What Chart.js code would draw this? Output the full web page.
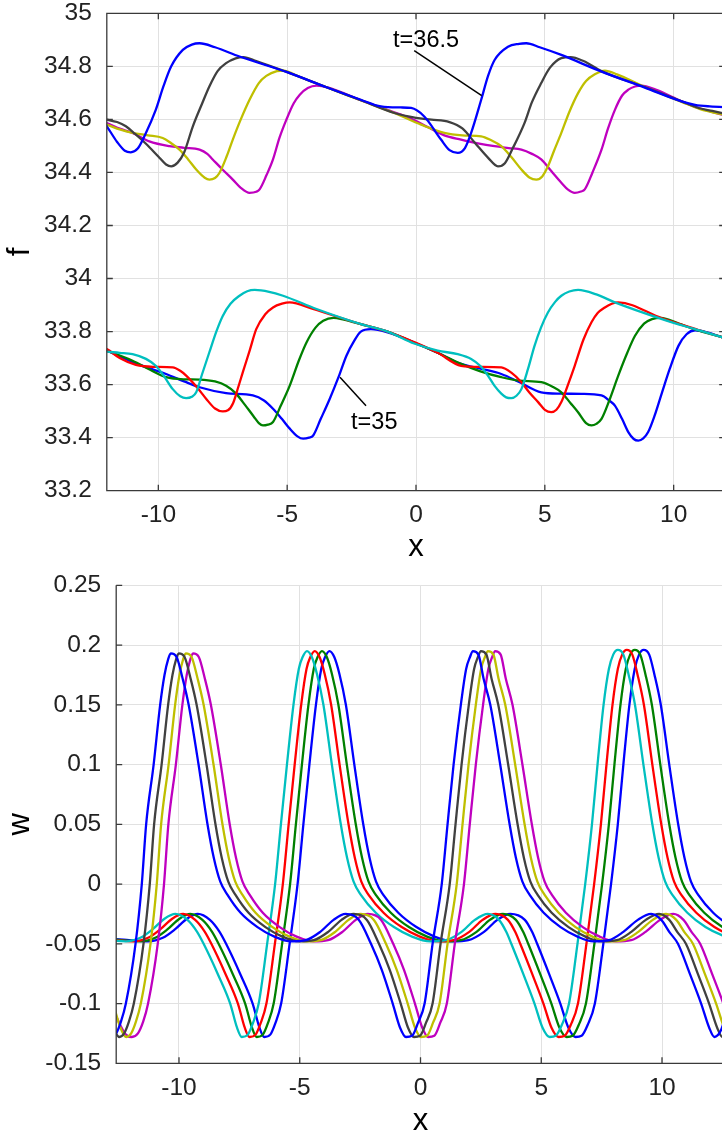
<!DOCTYPE html>
<html>
<head>
<meta charset="utf-8">
<script src="https://cdn.jsdelivr.net/npm/chart.js@4.4.1/dist/chart.umd.min.js"></script>
<style>
  html, body { margin: 0; padding: 0; background: #fff; overflow: hidden; }
  #wrap { position: relative; width: 760px; height: 1145px; }
  canvas { position: absolute; left: 0; }
  #fChart { top: 0; }
  #wChart { top: 560px; }
</style>
</head>
<body>
<div id="wrap">
  <canvas id="fChart" width="760" height="567"></canvas>
  <canvas id="wChart" width="760" height="582"></canvas>
</div>
<script>
// axis ranges and tick values
const xTicks = [-10, -5, 0, 5, 10];
const fTicks = [33.2, 33.4, 33.6, 33.8, 34, 34.2, 34.4, 34.6, 34.8, 35];
const wTicks = [-0.15, -0.1, -0.05, 0, 0.05, 0.1, 0.15, 0.2, 0.25];
const fXRange = [-12, 12];
const wXRange = [-12.6, 12.6];

// top panel, f(x): upper group ends at t=36.5, lower group starts at t=35
const fHiBlue = [[-12.2,34.6],[-12,34.574],[-11.6,34.515],[-11.3,34.482],[-11.07,34.476],[-10.8,34.49],[-10.5,34.545],[-10.1,34.636],[-9.8,34.725],[-9.5,34.8],[-9.05,34.862],[-8.7,34.882],[-8.4,34.887],[-7.8,34.872],[-6.85,34.837],[-5,34.778],[-3.5,34.722],[-2.14,34.674],[-1.36,34.649],[-0.6,34.645],[-0.19,34.643],[0.32,34.611],[0.97,34.524],[1.3,34.484],[1.62,34.474],[1.9,34.492],[2.14,34.549],[2.53,34.674],[2.8,34.765],[3.05,34.824],[3.57,34.874],[4,34.885],[4.28,34.887],[4.8,34.872],[5.64,34.843],[7.2,34.78],[8.88,34.72],[10.31,34.668],[10.83,34.655],[11.4,34.649],[12.2,34.645]];
const fHiGray = [[-12.2,34.603],[-12,34.599],[-11.6,34.59],[-11.26,34.574],[-10.9,34.545],[-10.48,34.508],[-10,34.46],[-9.7,34.43],[-9.5,34.423],[-9.25,34.437],[-9,34.475],[-8.66,34.574],[-8.3,34.66],[-8.02,34.724],[-7.7,34.782],[-7.37,34.812],[-7,34.83],[-6.7,34.835],[-6.2,34.82],[-5,34.778],[-3.5,34.722],[-2.14,34.672],[-0.84,34.624],[0,34.606],[0.6,34.599],[1.3,34.59],[1.8,34.566],[2.3,34.51],[2.8,34.455],[3.18,34.423],[3.45,34.435],[3.75,34.49],[4.21,34.586],[4.5,34.665],[4.86,34.737],[5.2,34.795],[5.64,34.831],[6,34.835],[6.5,34.82],[7.2,34.782],[8.88,34.722],[10.31,34.668],[11,34.642],[11.5,34.632],[12.2,34.617]];
const fHiYellow = [[-12.2,34.585],[-12,34.58],[-11.5,34.562],[-11,34.549],[-10.4,34.54],[-9.83,34.53],[-9.5,34.51],[-9.18,34.486],[-8.85,34.45],[-8.53,34.411],[-8.2,34.38],[-8.02,34.373],[-7.8,34.379],[-7.63,34.398],[-7.35,34.46],[-7.11,34.524],[-6.8,34.6],[-6.46,34.674],[-6.1,34.737],[-5.81,34.764],[-5.4,34.782],[-5.16,34.784],[-4.5,34.76],[-3.5,34.722],[-2.14,34.672],[-0.84,34.624],[0.2,34.58],[1.1,34.549],[1.8,34.54],[2.53,34.536],[2.9,34.522],[3.31,34.499],[3.7,34.458],[4.09,34.411],[4.4,34.381],[4.67,34.373],[4.9,34.385],[5.12,34.423],[5.35,34.48],[5.64,34.549],[5.95,34.628],[6.29,34.699],[6.6,34.745],[6.94,34.77],[7.33,34.784],[7.8,34.77],[8.88,34.722],[10.31,34.666],[11,34.64],[12.2,34.612]];
const fHiMagenta = [[-12.2,34.59],[-12,34.586],[-11.5,34.565],[-11,34.549],[-10.35,34.517],[-9.57,34.499],[-9,34.493],[-8.4,34.486],[-8.1,34.47],[-7.89,34.449],[-7.5,34.41],[-7.11,34.373],[-6.8,34.342],[-6.46,34.323],[-6.2,34.327],[-6.07,34.336],[-5.8,34.39],[-5.55,34.449],[-5.3,34.53],[-5.03,34.599],[-4.75,34.66],[-4.51,34.693],[-4.2,34.718],[-3.86,34.727],[-3.4,34.72],[-2.14,34.672],[-1,34.632],[-0.2,34.603],[0.45,34.571],[1.1,34.54],[1.75,34.524],[2.4,34.51],[3.05,34.499],[3.6,34.492],[4.09,34.486],[4.5,34.47],[4.86,34.449],[5.25,34.405],[5.64,34.361],[5.9,34.335],[6.16,34.323],[6.4,34.328],[6.55,34.336],[6.85,34.4],[7.2,34.486],[7.45,34.565],[7.72,34.636],[8,34.69],[8.24,34.712],[8.5,34.724],[8.75,34.727],[9.3,34.712],[10.31,34.668],[11,34.642],[12.2,34.61]];
const fLoCyan = [[-12.2,33.726],[-12,33.724],[-11.5,33.72],[-11,33.715],[-10.48,33.697],[-10.1,33.671],[-9.8,33.635],[-9.44,33.583],[-9.15,33.556],[-8.92,33.549],[-8.7,33.554],[-8.53,33.571],[-8.3,33.64],[-8.02,33.722],[-7.75,33.8],[-7.5,33.859],[-7.2,33.905],[-6.85,33.935],[-6.55,33.952],[-6.26,33.957],[-5.7,33.95],[-5.16,33.935],[-3.86,33.885],[-2.14,33.828],[-1.1,33.8],[-0.07,33.755],[0.84,33.728],[1.62,33.715],[2.14,33.697],[2.5,33.67],[2.79,33.634],[3.05,33.595],[3.31,33.566],[3.5,33.552],[3.7,33.549],[3.9,33.558],[4.09,33.583],[4.35,33.66],[4.6,33.746],[4.85,33.815],[5.12,33.872],[5.4,33.912],[5.64,33.935],[5.95,33.951],[6.29,33.957],[7,33.94],[7.72,33.91],[9.55,33.847],[10.83,33.809],[11.9,33.778],[12.2,33.77]];
const fLoRed = [[-12.2,33.74],[-12,33.734],[-11.5,33.7],[-10.87,33.674],[-10.2,33.667],[-9.44,33.665],[-9.15,33.652],[-8.92,33.634],[-8.5,33.59],[-8.14,33.546],[-7.8,33.51],[-7.5,33.499],[-7.3,33.503],[-7.1,33.53],[-6.9,33.59],[-6.72,33.647],[-6.45,33.73],[-6.2,33.809],[-5.85,33.865],[-5.55,33.891],[-5.2,33.905],[-4.9,33.91],[-4,33.885],[-2.14,33.828],[-1.1,33.8],[-0.07,33.76],[0.84,33.72],[1.75,33.671],[2.5,33.667],[3.31,33.665],[3.7,33.645],[4.09,33.609],[4.4,33.57],[4.74,33.534],[5,33.505],[5.25,33.496],[5.45,33.505],[5.64,33.534],[5.9,33.6],[6.16,33.671],[6.5,33.77],[6.81,33.835],[7.05,33.87],[7.33,33.891],[7.6,33.905],[7.85,33.91],[9.55,33.85],[10.83,33.81],[11.9,33.778],[12.2,33.77]];
const fLoGreen = [[-12.2,33.735],[-12,33.728],[-11,33.69],[-10.3,33.655],[-9.7,33.628],[-9,33.62],[-8.4,33.619],[-7.8,33.612],[-7.37,33.596],[-7,33.568],[-6.72,33.534],[-6.3,33.48],[-6.1,33.455],[-5.94,33.446],[-5.75,33.449],[-5.55,33.459],[-5.25,33.52],[-4.9,33.596],[-4.55,33.69],[-4.25,33.759],[-3.9,33.815],[-3.6,33.841],[-3.2,33.852],[-2.8,33.845],[-2.14,33.828],[-1.1,33.8],[-0.07,33.758],[0.84,33.72],[1.75,33.678],[2.5,33.65],[3.31,33.628],[4,33.615],[4.86,33.609],[5.3,33.592],[5.64,33.571],[6,33.53],[6.29,33.496],[6.6,33.455],[6.81,33.446],[7,33.452],[7.2,33.471],[7.5,33.54],[7.85,33.634],[8.2,33.72],[8.5,33.784],[8.85,33.83],[9.16,33.847],[9.5,33.852],[10.2,33.83],[10.83,33.808],[11.9,33.778],[12.2,33.77]];
const fLoBlue = [[-12.2,33.735],[-12,33.728],[-11,33.685],[-10.3,33.66],[-9.7,33.64],[-9,33.612],[-8.4,33.59],[-7.37,33.568],[-6.33,33.559],[-5.9,33.54],[-5.55,33.509],[-5.2,33.47],[-4.9,33.434],[-4.6,33.405],[-4.38,33.396],[-4.15,33.4],[-3.99,33.408],[-3.7,33.47],[-3.35,33.546],[-3,33.63],[-2.7,33.709],[-2.4,33.765],[-2.14,33.8],[-1.75,33.809],[-1.1,33.797],[-0.07,33.759],[0.84,33.72],[1.75,33.678],[2.5,33.66],[3.31,33.64],[4,33.61],[4.86,33.571],[5.6,33.566],[6.42,33.565],[7.2,33.559],[7.5,33.54],[7.72,33.521],[8,33.47],[8.24,33.421],[8.45,33.395],[8.63,33.389],[8.82,33.397],[9.01,33.421],[9.25,33.48],[9.55,33.571],[9.85,33.66],[10.19,33.747],[10.5,33.79],[10.83,33.805],[11.3,33.797],[11.9,33.778],[12.2,33.77]];

// bottom panel, w(x): first group (blue, gray, yellow, magenta), second group (cyan, red, green, blue)
const wBlue1 = [[-14.3,-0.05],[-13.8,-0.075],[-13.35,-0.1],[-13.05,-0.12],[-12.8,-0.128],[-12.6,-0.125],[-12.4,-0.115],[-12.2,-0.1],[-11.8,-0.05],[-11.54,0],[-11.36,0.05],[-11.05,0.1],[-10.78,0.15],[-10.6,0.175],[-10.45,0.188],[-10.34,0.193],[-10.1,0.19],[-9.85,0.172],[-9.6,0.15],[-9.19,0.1],[-8.82,0.05],[-8.56,0.022],[-8.29,0.002],[-7.99,-0.009],[-7.45,-0.024],[-6.75,-0.036],[-6.05,-0.044],[-5.35,-0.048],[-4.75,-0.047],[-4.15,-0.04],[-3.6,-0.03],[-3.1,-0.025],[-2.55,-0.03],[-2.05,-0.05],[-1.6,-0.072],[-1.15,-0.1],[-0.85,-0.12],[-0.6,-0.128],[-0.35,-0.127],[-0.1,-0.116],[0.17,-0.1],[0.5,-0.05],[0.88,0],[1.12,0.05],[1.37,0.1],[1.67,0.15],[1.89,0.18],[2.05,0.19],[2.17,0.195],[2.4,0.192],[2.61,0.172],[2.89,0.15],[3.3,0.1],[3.69,0.05],[3.95,0.022],[4.22,0.002],[4.52,-0.009],[5.1,-0.024],[5.8,-0.036],[6.5,-0.044],[7.17,-0.048],[7.8,-0.047],[8.4,-0.04],[9,-0.03],[9.55,-0.025],[9.97,-0.03],[10.3,-0.04],[10.66,-0.05],[11.15,-0.075],[11.62,-0.1],[11.95,-0.12],[12.17,-0.128],[12.45,-0.122],[12.7,-0.105]];
const wGray1 = [[-13.97,-0.05],[-13.47,-0.075],[-13.02,-0.1],[-12.72,-0.12],[-12.47,-0.128],[-12.27,-0.125],[-12.07,-0.115],[-11.87,-0.1],[-11.47,-0.05],[-11.21,0],[-11.03,0.05],[-10.72,0.1],[-10.45,0.15],[-10.27,0.175],[-10.12,0.188],[-10.01,0.193],[-9.77,0.19],[-9.52,0.172],[-9.27,0.15],[-8.86,0.1],[-8.49,0.05],[-8.23,0.022],[-7.96,0.002],[-7.66,-0.009],[-7.12,-0.024],[-6.42,-0.036],[-5.72,-0.044],[-5.02,-0.048],[-4.42,-0.047],[-3.82,-0.04],[-3.27,-0.03],[-2.77,-0.025],[-2.22,-0.03],[-1.72,-0.05],[-1.27,-0.072],[-0.82,-0.1],[-0.52,-0.12],[-0.27,-0.128],[-0.02,-0.127],[0.23,-0.116],[0.5,-0.1],[0.83,-0.05],[1.21,0],[1.45,0.05],[1.7,0.1],[2,0.15],[2.22,0.18],[2.38,0.19],[2.5,0.195],[2.73,0.192],[2.94,0.172],[3.22,0.15],[3.63,0.1],[4.02,0.05],[4.28,0.022],[4.55,0.002],[4.85,-0.009],[5.43,-0.024],[6.13,-0.036],[6.83,-0.044],[7.5,-0.048],[8.13,-0.047],[8.73,-0.04],[9.33,-0.03],[9.88,-0.025],[10.3,-0.03],[10.63,-0.04],[10.99,-0.05],[11.48,-0.075],[11.95,-0.1],[12.28,-0.12],[12.5,-0.128],[12.78,-0.122],[13.03,-0.105]];
const wYellow1 = [[-13.68,-0.05],[-13.18,-0.075],[-12.73,-0.1],[-12.43,-0.12],[-12.18,-0.128],[-11.98,-0.125],[-11.78,-0.115],[-11.58,-0.1],[-11.18,-0.05],[-10.92,0],[-10.74,0.05],[-10.43,0.1],[-10.16,0.15],[-9.98,0.175],[-9.83,0.188],[-9.72,0.193],[-9.48,0.19],[-9.23,0.172],[-8.98,0.15],[-8.57,0.1],[-8.2,0.05],[-7.94,0.022],[-7.67,0.002],[-7.37,-0.009],[-6.83,-0.024],[-6.13,-0.036],[-5.43,-0.044],[-4.73,-0.048],[-4.13,-0.047],[-3.53,-0.04],[-2.98,-0.03],[-2.48,-0.025],[-1.93,-0.03],[-1.43,-0.05],[-0.98,-0.072],[-0.53,-0.1],[-0.23,-0.12],[0.02,-0.128],[0.27,-0.127],[0.52,-0.116],[0.79,-0.1],[1.12,-0.05],[1.5,0],[1.74,0.05],[1.99,0.1],[2.29,0.15],[2.51,0.18],[2.67,0.19],[2.79,0.195],[3.02,0.192],[3.23,0.172],[3.51,0.15],[3.92,0.1],[4.31,0.05],[4.57,0.022],[4.84,0.002],[5.14,-0.009],[5.72,-0.024],[6.42,-0.036],[7.12,-0.044],[7.79,-0.048],[8.42,-0.047],[9.02,-0.04],[9.62,-0.03],[10.17,-0.025],[10.59,-0.03],[10.92,-0.04],[11.28,-0.05],[11.77,-0.075],[12.24,-0.1],[12.57,-0.12],[12.79,-0.128],[13.07,-0.122],[13.32,-0.105]];
const wMagenta1 = [[-13.38,-0.06],[-12.88,-0.095],[-12.55,-0.113],[-12.2,-0.126],[-11.95,-0.128],[-11.7,-0.125],[-11.48,-0.115],[-11.28,-0.1],[-10.88,-0.05],[-10.62,0],[-10.44,0.05],[-10.13,0.1],[-9.86,0.15],[-9.68,0.175],[-9.53,0.188],[-9.42,0.193],[-9.18,0.19],[-8.93,0.172],[-8.68,0.15],[-8.27,0.1],[-7.9,0.05],[-7.64,0.022],[-7.37,0.002],[-7.07,-0.009],[-6.53,-0.024],[-5.83,-0.036],[-5.13,-0.044],[-4.43,-0.048],[-3.83,-0.047],[-3.23,-0.04],[-2.68,-0.03],[-2.18,-0.025],[-1.63,-0.03],[-1.13,-0.05],[-0.68,-0.072],[-0.23,-0.1],[0.07,-0.12],[0.32,-0.128],[0.57,-0.127],[0.82,-0.116],[1.09,-0.1],[1.42,-0.05],[1.8,0],[2.04,0.05],[2.29,0.1],[2.59,0.15],[2.81,0.18],[2.97,0.19],[3.09,0.195],[3.32,0.192],[3.53,0.172],[3.81,0.15],[4.22,0.1],[4.61,0.05],[4.87,0.022],[5.14,0.002],[5.44,-0.009],[6.02,-0.024],[6.72,-0.036],[7.42,-0.044],[8.09,-0.048],[8.72,-0.047],[9.32,-0.04],[9.92,-0.03],[10.47,-0.025],[10.89,-0.03],[11.22,-0.04],[11.58,-0.05],[12.07,-0.075],[12.54,-0.1],[12.87,-0.12]];
const wCyan2 = [[-13.6,-0.046],[-13,-0.047],[-12.2,-0.048],[-11.6,-0.045],[-11.1,-0.038],[-10.6,-0.029],[-10.15,-0.025],[-9.65,-0.03],[-9.25,-0.04],[-8.98,-0.05],[-8.4,-0.075],[-7.88,-0.1],[-7.6,-0.12],[-7.4,-0.128],[-7.15,-0.126],[-6.95,-0.117],[-6.7,-0.1],[-6.35,-0.05],[-6.02,0],[-5.78,0.05],[-5.53,0.1],[-5.26,0.15],[-5.04,0.18],[-4.88,0.19],[-4.7,0.195],[-4.5,0.19],[-4.29,0.176],[-4.02,0.15],[-3.67,0.1],[-3.3,0.05],[-3.04,0.022],[-2.77,0.002],[-2.47,-0.009],[-1.85,-0.024],[-1.1,-0.036],[-0.35,-0.044],[0.4,-0.048],[1.05,-0.047],[1.7,-0.04],[2.25,-0.03],[2.79,-0.025],[3.25,-0.03],[3.55,-0.04],[3.76,-0.05],[4.25,-0.075],[4.72,-0.1],[5.05,-0.12],[5.35,-0.128],[5.6,-0.127],[5.85,-0.118],[6.15,-0.1],[6.5,-0.05],[6.82,0],[7.1,0.05],[7.33,0.1],[7.58,0.15],[7.8,0.18],[7.98,0.192],[8.17,0.196],[8.4,0.192],[8.62,0.175],[8.88,0.15],[9.23,0.1],[9.6,0.05],[9.86,0.022],[10.13,0.002],[10.43,-0.009],[11.05,-0.024],[11.8,-0.036],[12.5,-0.043],[13,-0.046]];
const wRed2 = [[-13.28,-0.046],[-12.68,-0.047],[-11.88,-0.048],[-11.28,-0.045],[-10.78,-0.038],[-10.28,-0.029],[-9.83,-0.025],[-9.33,-0.03],[-8.93,-0.04],[-8.66,-0.05],[-8.08,-0.075],[-7.56,-0.1],[-7.28,-0.12],[-7.08,-0.128],[-6.83,-0.126],[-6.63,-0.117],[-6.38,-0.1],[-6.03,-0.05],[-5.7,0],[-5.46,0.05],[-5.21,0.1],[-4.94,0.15],[-4.72,0.18],[-4.56,0.19],[-4.38,0.195],[-4.18,0.19],[-3.97,0.176],[-3.7,0.15],[-3.35,0.1],[-2.98,0.05],[-2.72,0.022],[-2.45,0.002],[-2.15,-0.009],[-1.53,-0.024],[-0.78,-0.036],[-0.03,-0.044],[0.72,-0.048],[1.37,-0.047],[2.02,-0.04],[2.57,-0.03],[3.11,-0.025],[3.62,-0.03],[3.92,-0.04],[4.13,-0.05],[4.62,-0.075],[5.09,-0.1],[5.42,-0.12],[5.72,-0.128],[5.97,-0.127],[6.22,-0.118],[6.52,-0.1],[6.87,-0.05],[7.19,0],[7.47,0.05],[7.7,0.1],[7.95,0.15],[8.17,0.18],[8.35,0.192],[8.54,0.196],[8.77,0.192],[8.99,0.175],[9.25,0.15],[9.6,0.1],[9.97,0.05],[10.23,0.022],[10.5,0.002],[10.8,-0.009],[11.42,-0.024],[12.17,-0.036],[12.87,-0.043],[13.37,-0.046]];
const wGreen2 = [[-13.5,-0.046],[-12.98,-0.046],[-12.38,-0.047],[-11.58,-0.048],[-10.98,-0.045],[-10.48,-0.038],[-9.98,-0.029],[-9.53,-0.025],[-9.03,-0.03],[-8.63,-0.04],[-8.36,-0.05],[-7.78,-0.075],[-7.26,-0.1],[-6.98,-0.12],[-6.78,-0.128],[-6.53,-0.126],[-6.33,-0.117],[-6.08,-0.1],[-5.73,-0.05],[-5.4,0],[-5.16,0.05],[-4.91,0.1],[-4.64,0.15],[-4.42,0.18],[-4.26,0.19],[-4.08,0.195],[-3.88,0.19],[-3.67,0.176],[-3.4,0.15],[-3.05,0.1],[-2.68,0.05],[-2.42,0.022],[-2.15,0.002],[-1.85,-0.009],[-1.23,-0.024],[-0.48,-0.036],[0.27,-0.044],[1.02,-0.048],[1.67,-0.047],[2.32,-0.04],[2.87,-0.03],[3.41,-0.025],[3.95,-0.03],[4.25,-0.04],[4.46,-0.05],[4.95,-0.075],[5.42,-0.1],[5.75,-0.12],[6.05,-0.128],[6.3,-0.127],[6.55,-0.118],[6.85,-0.1],[7.2,-0.05],[7.52,0],[7.8,0.05],[8.03,0.1],[8.28,0.15],[8.5,0.18],[8.68,0.192],[8.87,0.196],[9.1,0.192],[9.32,0.175],[9.58,0.15],[9.93,0.1],[10.3,0.05],[10.56,0.022],[10.83,0.002],[11.13,-0.009],[11.75,-0.024],[12.5,-0.036],[13.2,-0.043]];
const wBlue2 = [[-13.2,-0.046],[-12.67,-0.046],[-12.07,-0.047],[-11.27,-0.048],[-10.67,-0.045],[-10.17,-0.038],[-9.67,-0.029],[-9.22,-0.025],[-8.72,-0.03],[-8.32,-0.04],[-8.05,-0.05],[-7.47,-0.075],[-6.95,-0.1],[-6.67,-0.12],[-6.47,-0.128],[-6.22,-0.126],[-6.02,-0.117],[-5.77,-0.1],[-5.42,-0.05],[-5.09,0],[-4.85,0.05],[-4.6,0.1],[-4.33,0.15],[-4.11,0.18],[-3.95,0.19],[-3.77,0.195],[-3.57,0.19],[-3.36,0.176],[-3.09,0.15],[-2.74,0.1],[-2.37,0.05],[-2.11,0.022],[-1.84,0.002],[-1.54,-0.009],[-0.92,-0.024],[-0.17,-0.036],[0.58,-0.044],[1.33,-0.048],[1.98,-0.047],[2.63,-0.04],[3.18,-0.03],[3.72,-0.025],[4.32,-0.03],[4.62,-0.04],[4.83,-0.05],[5.32,-0.075],[5.79,-0.1],[6.12,-0.12],[6.42,-0.128],[6.67,-0.127],[6.92,-0.118],[7.22,-0.1],[7.57,-0.05],[7.89,0],[8.17,0.05],[8.4,0.1],[8.65,0.15],[8.87,0.18],[9.05,0.192],[9.24,0.196],[9.47,0.192],[9.69,0.175],[9.95,0.15],[10.3,0.1],[10.67,0.05],[10.93,0.022],[11.2,0.002],[11.5,-0.009],[12.12,-0.024],[12.87,-0.036]];

// labelled arrows in the top panel (data coordinates)
const fNotes = [
  { text: 't=36.5', at: [0.39, 34.874], from: [-0.07, 34.859], to: [2.55, 34.69] },
  { text: 't=35', at: [-1.62, 33.433], from: [-2.95, 33.628], to: [-1.94, 33.52] },
];

const FONT = "'Liberation Sans', Arial, Helvetica, sans-serif";
const AXIS_COLOR = '#3a3a3a';
const GRID_COLOR = '#e1e1e1';
const TICK_COLOR = '#222';
Chart.defaults.font.family = FONT;

// axis lines with inward tick marks, like the original plot
function framePlugin(box) {
  return {
    id: 'frame',
    afterDatasetsDraw(chart) {
      const { ctx, chartArea: a, scales: { x, y } } = chart;
      const len = 6;
      ctx.save();
      ctx.strokeStyle = AXIS_COLOR;
      ctx.lineWidth = 1.3;
      ctx.beginPath();
      ctx.moveTo(a.left, a.top);
      ctx.lineTo(a.left, a.bottom);
      ctx.lineTo(a.right, a.bottom);
      if (box) {
        ctx.lineTo(a.right, a.top);
        ctx.closePath();
      }
      x.ticks.forEach(t => {
        const p = x.getPixelForValue(t.value);
        ctx.moveTo(p, a.bottom);
        ctx.lineTo(p, a.bottom - len);
        if (box) { ctx.moveTo(p, a.top); ctx.lineTo(p, a.top + len); }
      });
      y.ticks.forEach(t => {
        const p = y.getPixelForValue(t.value);
        ctx.moveTo(a.left, p);
        ctx.lineTo(a.left + len, p);
        if (box) { ctx.moveTo(a.right, p); ctx.lineTo(a.right - len, p); }
      });
      ctx.stroke();
      ctx.restore();
    }
  };
}

function notesPlugin(notes) {
  return {
    id: 'notes',
    afterDatasetsDraw(chart) {
      const { ctx, scales: { x, y } } = chart;
      notes.forEach(n => {
        ctx.save();
        ctx.strokeStyle = '#000';
        ctx.lineWidth = 1.5;
        ctx.beginPath();
        ctx.moveTo(x.getPixelForValue(n.from[0]), y.getPixelForValue(n.from[1]));
        ctx.lineTo(x.getPixelForValue(n.to[0]), y.getPixelForValue(n.to[1]));
        ctx.stroke();
        ctx.fillStyle = '#000';
        ctx.font = '23.5px ' + FONT;
        ctx.textAlign = 'center';
        ctx.textBaseline = 'alphabetic';
        ctx.fillText(n.text, x.getPixelForValue(n.at[0]), y.getPixelForValue(n.at[1]));
        ctx.restore();
      });
    }
  };
}

const fmt = v => String(Math.round(v * 100) / 100);

function lineSet(points, color) {
  return {
    data: points.map(([x, y]) => ({ x, y })),
    borderColor: color,
    borderWidth: 2.3,
    pointRadius: 0,
    fill: false,
    cubicInterpolationMode: 'monotone',
    clip: 0,
  };
}

function makeChart(id, opt) {
  const tickFont = { family: FONT, size: 24.5 };
  const titleFont = { family: FONT, size: 31 };
  return new Chart(document.getElementById(id), {
    type: 'line',
    data: { datasets: opt.series.map(([pts, c]) => lineSet(pts, c)) },
    options: {
      responsive: false,
      animation: false,
      events: [],
      layout: { padding: { top: opt.padTop, right: opt.padRight, left: 0, bottom: 0 } },
      plugins: { legend: { display: false }, tooltip: { enabled: false } },
      scales: {
        x: {
          type: 'linear',
          min: opt.xRange[0],
          max: opt.xRange[1],
          afterBuildTicks: s => { s.ticks = xTicks.map(value => ({ value })); },
          afterFit: s => { s.height = opt.xHeight; s.paddingLeft = 0; s.paddingRight = 0; },
          grid: { color: GRID_COLOR, lineWidth: 1, drawTicks: false },
          border: { display: false },
          ticks: { font: tickFont, color: TICK_COLOR, padding: 10, maxRotation: 0, autoSkip: false, callback: fmt },
          title: { display: true, text: 'x', font: titleFont, color: '#000', padding: { top: 0, bottom: opt.xTitlePad } },
        },
        y: {
          type: 'linear',
          min: opt.yTicks[0],
          max: opt.yTicks[opt.yTicks.length - 1],
          afterBuildTicks: s => { s.ticks = opt.yTicks.map(value => ({ value })); },
          afterFit: s => { s.width = opt.yWidth; s.paddingTop = 0; s.paddingBottom = 0; },
          grid: { color: GRID_COLOR, lineWidth: 1, drawTicks: false },
          border: { display: false },
          ticks: { font: tickFont, color: TICK_COLOR, padding: 15, autoSkip: false, callback: fmt },
          title: { display: true, text: opt.yTitle, font: titleFont, color: '#000', padding: { top: 2, bottom: 0 } },
        },
      },
    },
    plugins: opt.plugins,
  });
}

makeChart('fChart', {
  series: [
    [fHiBlue, '#0000ff'], [fHiGray, '#404040'], [fHiYellow, '#bfbf00'], [fHiMagenta, '#bf00bf'],
    [fLoCyan, '#00bfbf'], [fLoRed, '#ff0000'], [fLoGreen, '#008000'], [fLoBlue, '#0000ff'],
  ],
  xRange: fXRange,
  yTicks: fTicks,
  yTitle: 'f',
  padTop: 13.3,
  padRight: 760 - 725.2,
  yWidth: 106.8,
  xHeight: 567 - 490.7,
  xTitlePad: 0.7,
  plugins: [framePlugin(true), notesPlugin(fNotes)],
});

makeChart('wChart', {
  series: [
    [wBlue1, '#0000ff'], [wGray1, '#404040'], [wYellow1, '#bfbf00'], [wMagenta1, '#bf00bf'],
    [wCyan2, '#00bfbf'], [wRed2, '#ff0000'], [wGreen2, '#008000'], [wBlue2, '#0000ff'],
  ],
  xRange: wXRange,
  yTicks: wTicks,
  yTitle: 'w',
  padTop: 25.3,
  padRight: 760 - 724.8,
  yWidth: 116.2,
  xHeight: 582 - 503.3,
  xTitlePad: 1.7,
  plugins: [framePlugin(false)],
});
</script>
</body>
</html>
